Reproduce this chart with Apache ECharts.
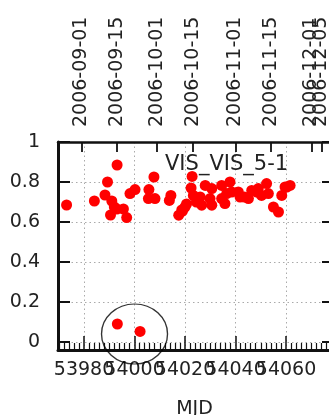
<!DOCTYPE html>
<html>
<head>
<meta charset="utf-8">
<script src="https://cdn.jsdelivr.net/npm/echarts@6/dist/echarts.min.js"></script>
<style>
html,body{margin:0;padding:0;background:#fff;}
#chart{width:329px;height:415px;}
</style>
</head>
<body>
<div id="chart"></div>
<script>
// MJD of each observation
const mjd = [
  53973.1, 53984.1, 53988.3, 53989.3, 53991.0, 53990.5, 53992.0, 53993.1, 53993.0, 53995.6,
  53996.9, 53998.2, 54000.2, 54005.7, 54005.5, 54007.7, 54008.1, 54014.4, 54013.8, 54017.5,
  54019.0, 54020.0, 54022.8, 54022.4, 54023.3, 54024.5, 54026.6, 54028.0, 54030.6, 54029.9,
  54030.6, 54034.5, 54034.5, 54036.5, 54035.8, 54037.8, 54038.5, 54041.1, 54043.5, 54045.1,
  54046.4, 54049.0, 54050.3, 54052.3, 54053.0, 54055.0, 54057.0, 54058.3, 54059.6, 54061.6,
  54026.0, 54041.8, 54048.4, 54060.3, 54018.7, 54020.6,
  53993.2, 54002.2
];
// Visibility values
const vis = [
  0.685, 0.705, 0.735, 0.800, 0.705, 0.635, 0.675, 0.885, 0.665, 0.665,
  0.622, 0.742, 0.762, 0.762, 0.717, 0.825, 0.717, 0.733, 0.708, 0.634,
  0.655, 0.675, 0.828, 0.770, 0.733, 0.700, 0.684, 0.783, 0.767, 0.717,
  0.684, 0.783, 0.717, 0.742, 0.692, 0.800, 0.750, 0.750, 0.725, 0.717,
  0.758, 0.767, 0.733, 0.792, 0.742, 0.675, 0.650, 0.733, 0.775, 0.783,
  0.725, 0.725, 0.750, 0.775, 0.660, 0.690,
  0.090, 0.053
];
// Top axis: calendar dates at MJD
const topTickMJD = [53979, 53993, 54009, 54023, 54040, 54054, 54070, 54074];
const topTickLabels = ['2006-09-01', '2006-09-15', '2006-10-01', '2006-10-15', '2006-11-01', '2006-11-15', '2006-12-01', '2006-12-05'];
// Bottom axis ticks / y ticks
const bottomTicks = [53980, 54000, 54020, 54040, 54060];
const yTicks = [0, 0.2, 0.4, 0.6, 0.8, 1];
const xRange = [53969.7, 54077.8];
const yRange = [-0.04, 1];
const plotTitle = 'VIS_VIS_5-1';
const highlightCenter = [54000, 0.04];

const FONT = 'DejaVu Sans';
const TXT = '#222';

const points = mjd.map((m, i) => [m, vis[i]]);
const isTick = (v, arr) => arr.some(t => Math.abs(t - v) < 1e-6);
const dateLabel = v => {
  const i = topTickMJD.findIndex(t => Math.abs(t - v) < 1e-6);
  return i >= 0 ? topTickLabels[i] : '';
};
// split top ticks over two axes so that overlapping labels are all drawn
const topA = topTickMJD.filter((_, i) => i % 2 === 0);
const topB = topTickMJD.filter((_, i) => i % 2 === 1);

function topAxis(values, showLine) {
  return {
    type: 'value', position: 'top', min: xRange[0], max: xRange[1],
    axisLine: {show: showLine, onZero: false, lineStyle: {color: '#111', width: 2.5}},
    axisTick: {show: true, inside: true, length: 10, customValues: values, lineStyle: {color: '#111', width: 1.8}},
    axisLabel: {
      show: true, rotate: -90, margin: 15, fontFamily: FONT, fontSize: 19, color: TXT,
      hideOverlap: false, showMinLabel: true, showMaxLabel: true,
      customValues: values, formatter: dateLabel
    },
    splitLine: {show: false}
  };
}

const chart = echarts.init(document.getElementById('chart'), null, {renderer: 'canvas'});
chart.setOption({
  animation: false,
  backgroundColor: '#fff',
  textStyle: {fontFamily: FONT},
  title: {
    text: plotTitle, left: 160, top: 149,
    textStyle: {fontFamily: FONT, fontSize: 21, fontWeight: 'normal', color: TXT}
  },
  grid: {left: 58, top: 142, right: -2, bottom: 65, containLabel: false, outerBoundsMode: 'none'},
  xAxis: [
    {
      type: 'value', position: 'bottom', min: xRange[0], max: xRange[1], splitNumber: 5,
      name: 'MJD', nameLocation: 'middle', nameGap: 50,
      nameTextStyle: {fontFamily: FONT, fontSize: 19, color: TXT},
      axisLine: {show: true, onZero: false, lineStyle: {color: '#111', width: 3}},
      axisTick: {show: true, inside: true, length: 14, lineStyle: {color: '#111', width: 1.5}},
      minorTick: {show: true, splitNumber: 10, length: 7, lineStyle: {color: '#111', width: 1.2}},
      axisLabel: {
        show: true, margin: 11, fontFamily: FONT, fontSize: 19, color: TXT,
        showMinLabel: true, showMaxLabel: true, hideOverlap: false,
        formatter: v => isTick(v, bottomTicks) ? String(Math.round(v)) : ''
      },
      splitLine: {show: true, lineStyle: {color: '#aaa', type: [1.5, 3], width: 1}}
    },
    topAxis(topA, true),
    topAxis(topB, false)
  ],
  yAxis: [
    {
      type: 'value', position: 'left', min: yRange[0], max: yRange[1], splitNumber: 5,
      axisLine: {show: true, onZero: false, lineStyle: {color: '#111', width: 3}},
      axisTick: {show: true, inside: true, length: 12, lineStyle: {color: '#111', width: 2}},
      axisLabel: {
        show: true, margin: 18, fontFamily: FONT, fontSize: 19, color: TXT,
        formatter: v => isTick(v, yTicks) ? String(+v.toFixed(1)) : ''
      },
      splitLine: {show: true, lineStyle: {color: '#aaa', type: [1.5, 3], width: 1}}
    },
    {
      type: 'value', position: 'right', min: yRange[0], max: yRange[1], splitNumber: 5,
      axisLine: {show: true, onZero: false, lineStyle: {color: '#111', width: 2}},
      axisTick: {show: true, inside: true, length: 9, lineStyle: {color: '#111', width: 2}},
      axisLabel: {show: false},
      splitLine: {show: false}
    }
  ],
  series: [
    {
      type: 'scatter', xAxisIndex: 0, yAxisIndex: 0,
      data: points, symbol: 'circle', symbolSize: 11,
      itemStyle: {color: '#ff0000', opacity: 1},
      z: 3
    },
    {
      type: 'scatter', xAxisIndex: 0, yAxisIndex: 0,
      data: [highlightCenter], symbol: 'circle', symbolSize: [66, 60],
      clip: false, silent: true,
      itemStyle: {color: 'rgba(0,0,0,0)', borderColor: '#000', borderWidth: 1.3},
      z: 4
    }
  ]
});
</script>
</body>
</html>
